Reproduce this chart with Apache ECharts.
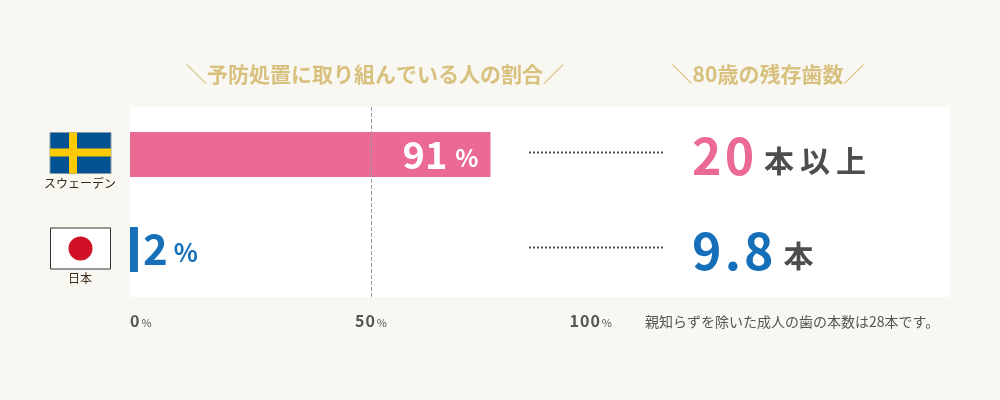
<!DOCTYPE html>
<html>
<head>
<meta charset="utf-8">
<script src="https://cdn.jsdelivr.net/npm/echarts@6/dist/echarts.min.js"></script>
<style>
    html, body{
        margin: 0;
        padding: 0;
        background: #f8f7f1;
    }
    #main{
        width: 1000px;
        height: 400px;
    }
</style>
</head>
<body>
<div id="main"></div>
<script>
    // データ
    var countries = ['スウェーデン', '日本'];
    var careRate = [91, 2];              // 予防処置に取り組んでいる人の割合 (%)
    var teethCount = ['20', '9.8'];      // 80歳の残存歯数
    var teethUnit = ['本以上', '本'];
    var rateTicks = [0, 50, 100];
    var barColors = ['#eb6a93', '#1670b9'];

    var font = "'Noto Sans CJK JP', 'Noto Sans', sans-serif";
    var gold = '#d8c07e';

    var myChart = echarts.init(document.getElementById('main'));

    var option = {
        backgroundColor: '#f8f7f1',
        animation: false,
        textStyle: { fontFamily: font },
        title: [
            {
                text: '＼予防処置に取り組んでいる人の割合／',
                left: 370, top: 59, textAlign: 'center',
                textStyle: { fontFamily: font, fontSize: 21, fontWeight: 'bold', color: gold }
            },
            {
                text: '＼80歳の残存歯数／',
                left: 763, top: 59, textAlign: 'center',
                textStyle: { fontFamily: font, fontSize: 21, fontWeight: 'bold', color: gold }
            }
        ],
        grid: [
            // 白いパネル + 棒
            { left: 130, right: 50, top: 107, bottom: 103, show: true, backgroundColor: '#fff', borderWidth: 0 },
            // 目盛り (0〜100%)
            { left: 130, width: 482, top: 107, bottom: 103 }
        ],
        xAxis: [
            { gridIndex: 0, type: 'value', min: 0, max: 207, show: false },
            {
                gridIndex: 1, type: 'value', min: rateTicks[0], max: rateTicks[rateTicks.length - 1],
                interval: rateTicks[1] - rateTicks[0],
                axisLine: { show: false }, axisTick: { show: false }, splitLine: { show: false },
                axisLabel: {
                    margin: 16,
                    alignMinLabel: 'left',
                    alignMaxLabel: 'right',
                    formatter: function (v) { return '{n|' + String(v).split('').join('\u200a') + '}{p|%}'; },
                    rich: {
                        n: { fontFamily: font, fontSize: 16, fontWeight: 'bold', color: '#555' },
                        p: { fontFamily: font, fontSize: 11, color: '#555', padding: [3, 0, 0, 2] }
                    }
                }
            }
        ],
        yAxis: [
            {
                gridIndex: 0, type: 'category', data: countries, inverse: true,
                axisLine: { show: false }, axisTick: { show: false },
                axisLabel: {
                    margin: 50, align: 'center', verticalAlign: 'top',
                    padding: [23, 0, 0, 0],
                    fontFamily: font, fontSize: 12, color: '#3b2a1a'
                }
            },
            { gridIndex: 1, type: 'category', data: countries, inverse: true, show: false }
        ],
        series: [
            {
                type: 'bar',
                xAxisIndex: 0, yAxisIndex: 0,
                barWidth: 45,
                data: careRate.map(function (v, i) {
                    return {
                        value: v,
                        itemStyle: { color: barColors[i] },
                        label: {
                            position: i === 0 ? 'insideRight' : 'right',
                            distance: i === 0 ? 12 : 5
                        }
                    };
                }),
                label: {
                    show: true,
                    formatter: function (p) {
                        var k = p.dataIndex === 0 ? 'w' : 'b';
                        return '{' + k + 'n|' + p.value + '}{' + k + 'p|%}';
                    },
                    rich: {
                        wn: { fontFamily: font, fontSize: 38, fontWeight: 'bold', color: '#fff' },
                        wp: { fontFamily: font, fontSize: 24, fontWeight: 'bold', color: '#fff', padding: [6, 0, 0, 8] },
                        bn: { fontFamily: font, fontSize: 42, fontWeight: 'bold', color: barColors[1] },
                        bp: { fontFamily: font, fontSize: 25, fontWeight: 'bold', color: barColors[1], padding: [6, 0, 0, 6] }
                    }
                }
            },
            {
                type: 'line',
                xAxisIndex: 1, yAxisIndex: 1,
                data: [],
                markLine: {
                    silent: true, symbol: 'none',
                    label: { show: false },
                    lineStyle: { color: '#9a9a9a', type: 'dashed', width: 1 },
                    data: [{ xAxis: 50 }]
                }
            }
        ]
    };
    myChart.setOption(option);

    // 国旗・点線・残存歯数
    var graphics = [];
    countries.forEach(function (c, i) {
        var yc = myChart.convertToPixel({ yAxisIndex: 0 }, c);
        if (i === 0) {
            graphics.push(
                { type: 'rect', shape: { x: 50, y: yc - 22, width: 61, height: 41 }, style: { fill: '#005293', stroke: '#8a9aa6', lineWidth: 1 } },
                { type: 'rect', shape: { x: 69, y: yc - 22, width: 8, height: 41 }, style: { fill: '#fecb00' } },
                { type: 'rect', shape: { x: 50, y: yc - 6, width: 61, height: 8 }, style: { fill: '#fecb00' } }
            );
        } else {
            graphics.push(
                { type: 'rect', shape: { x: 50.5, y: yc - 21.5, width: 60, height: 41 }, style: { fill: '#fff', stroke: '#333', lineWidth: 1 } },
                { type: 'circle', shape: { cx: 80.5, cy: yc - 1, r: 12 }, style: { fill: '#d01126' } }
            );
        }
        graphics.push({
            type: 'line',
            shape: { x1: 529, y1: yc - 2, x2: 663, y2: yc - 2 },
            style: { stroke: '#555', lineWidth: 2, lineDash: [2, 2] }
        });
        graphics.push({
            type: 'text',
            x: 692, y: yc + 1,
            style: {
                text: '{n|' + teethCount[i].split('').join('\u200a') + '}{u|' + teethUnit[i].split('').join('\u2009') + '}',
                align: 'left', verticalAlign: 'middle',
                rich: {
                    n: { fontFamily: font, fontSize: 50, fontWeight: 'bold', fill: barColors[i] },
                    u: { fontFamily: font, fontSize: 30, fontWeight: 'bold', fill: '#4d4d4d', padding: [10, 0, 0, 10] }
                }
            }
        });
    });
    graphics.push({
        type: 'text',
        x: 645, y: 322,
        style: {
            text: '親知らずを除いた成人の歯の本数は28本です。',
            align: 'left', verticalAlign: 'middle',
            font: '14px ' + font, fill: '#555'
        }
    });
    myChart.setOption({ graphic: graphics });
</script>
</body>
</html>
